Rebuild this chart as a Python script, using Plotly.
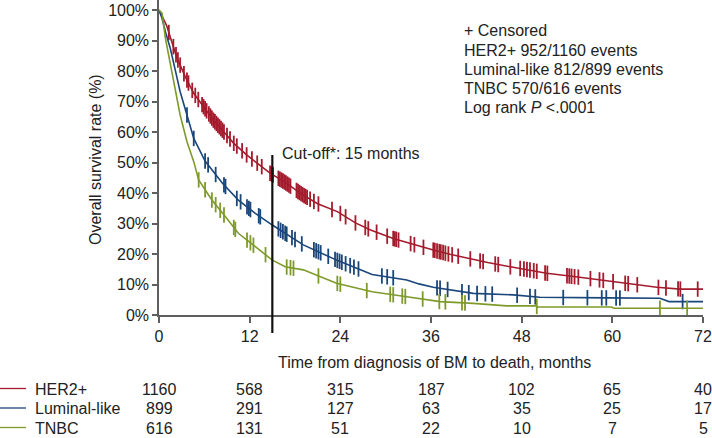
import numpy as np
import plotly.graph_objects as go

# ---------------- data ----------------
her2_t = [0, 0.3, 1.0, 1.7, 2.4, 3.5, 4.6, 5.9, 7.2, 8.4, 9.9, 11.6, 13.0, 14.7, 16.5, 19.1, 21.0,
          23.6, 26.0, 28.0, 31.0, 34.4, 36.3, 38.5, 40.8, 43.5, 46.5, 49.0, 51.3, 54.9, 57.5,
          60.1, 63.0, 65.9, 69.0, 72]
her2_s = [100, 98.5, 95, 89.5, 84.2, 78, 72.7, 68.3, 63.9, 60.6, 56.3, 52.5, 49.8, 46.5, 43.8,
          39.3, 36.5, 33.9, 30.2, 27.9, 25.1, 22.6, 21.3, 19.9, 18.6, 17.2, 15.8, 14.8, 13.7,
          12.6, 11.8, 10.9, 10.0, 9.1, 8.5, 8.5]

lum_t = [0, 0.4, 0.85, 1.5, 2.2, 2.8, 3.7, 4.6, 6.1, 8.4, 10.5, 12.75, 15.0, 19.1, 23.5, 28.2,
         32.8, 34.4, 36.3, 41.6, 46.9, 50.4, 59.3, 66.3, 67.5, 72]
lum_s = [100, 97.3, 92.9, 87.4, 79.8, 73.2, 65.6, 57.9, 50.5, 43.2, 37.7, 33.3, 29.5, 23.0, 18.0,
         13.3, 11.5, 10.2, 9.1, 7.1, 6.6, 5.8, 5.6, 5.5, 4.4, 4.4]

tnbc_t = [0, 0.4, 0.85, 1.5, 2.2, 2.8, 3.7, 4.6, 5.25, 7.0, 8.8, 10.5, 12.75, 15.0, 16.7, 19.1,
          23.5, 28.2, 32.8, 37.2, 41.6, 46.0, 49.9, 50.1, 59.9, 60.2, 72]
tnbc_s = [100, 99.0, 90.7, 82.0, 73.2, 65.6, 56.8, 50.3, 44.3, 37.7, 32.2, 26.8, 22.4, 18.0, 15.8,
          14.8, 10.4, 7.6, 6.0, 4.4, 3.8, 3.0, 3.0, 2.6, 2.6, 2.2, 2.2]

her2_cens = [1.3, 1.9, 2.25, 2.5, 2.8, 3.3, 3.7, 3.9, 4.4, 4.8, 5.2, 5.7, 5.9, 6.1, 6.3, 6.6, 6.8,
             7.0, 7.2, 7.4, 7.6, 7.8, 8.0, 8.2, 8.4, 8.6, 9.0, 9.4, 9.9, 10.3, 11.0, 11.6, 12.3,
             13.0, 13.6, 14.7, 14.9, 15.1, 15.8, 16.0, 16.2, 16.4, 16.6, 16.8, 17.0, 17.2, 17.4,
             18.2, 18.4, 18.6, 18.8, 19.0, 19.2, 19.4, 19.6, 20.0, 20.5, 21.1, 22.9, 24.0, 24.7,
             26.0, 27.3, 27.7, 28.8, 30.2, 31.0, 31.2, 31.4, 31.7, 33.3, 33.8, 35.0, 36.3, 36.5,
             36.8, 37.1, 37.3, 37.6, 37.9, 38.3, 38.8, 39.6, 41.2, 42.5, 42.9, 44.5, 44.9, 46.5,
             47.8, 48.3, 48.7, 49.1, 49.6, 50.0, 51.1, 51.4, 54.0, 54.3, 54.6, 55.0, 55.5, 57.1,
             58.3, 58.8, 60.1, 61.7, 62.1, 63.3, 66.1, 67.1, 68.7, 69.0, 71.3]
lum_cens = [3.7, 4.6, 6.1, 6.5, 7.5, 8.6, 8.8, 10.3, 10.8, 11.65, 11.9, 12.1, 13.2, 13.4, 15.8,
            16.1, 16.4, 16.7, 16.9, 17.6, 18.0, 18.9, 20.5, 20.8, 21.1, 21.4, 22.4, 23.3, 23.6,
            23.9, 24.2, 24.7, 25.3, 25.8, 26.4, 29.5, 30.2, 31.0, 36.8, 37.2, 38.2, 40.1, 41.0,
            42.1, 43.2, 44.1, 47.4, 49.1, 49.8, 53.5, 56.7, 58.6, 59.2, 60.5, 61.0, 69.3]
tnbc_cens = [5.25, 6.1, 7.0, 7.5, 8.1, 8.6, 9.9, 10.1, 11.65, 12.1, 12.5, 14.1, 16.9, 17.4, 17.8,
             21.1, 23.6, 24.0, 27.5, 30.6, 31.0, 32.2, 32.6, 34.9, 37.1, 37.9, 40.1, 40.5, 50.0,
             66.3, 69.9]

risk_times = [0, 12, 24, 36, 48, 60, 72]
her2_risk = [1160, 568, 315, 187, 102, 65, 40]
lum_risk = [899, 291, 127, 63, 35, 25, 17]
tnbc_risk = [616, 131, 51, 22, 10, 7, 5]

series_names = ["HER2+", "Luminal-like", "TNBC"]
y_ticks = [0, 10, 20, 30, 40, 50, 60, 70, 80, 90, 100]
y_tick_labels = ["0%", "10%", "20%", "30%", "40%", "50%", "60%", "70%", "80%", "90%", "100%"]
x_ticks = [0, 12, 24, 36, 48, 60, 72]
x_tick_labels = ["0", "12", "24", "36", "48", "60", "72"]
info_lines = ["+ Censored", "HER2+ 952/1160 events", "Luminal-like 812/899 events",
              "TNBC 570/616 events", "Log rank <i>P</i> &lt;.0001"]
cutoff_month = 15
cutoff_label = "Cut-off*: 15 months"

# ---------------- style ----------------
colors = ["#a31b2c", "#1a467a", "#7e9a2a"]
FONT = "Liberation Sans, Arial, sans-serif"
FS = 16
TXT = "#222222"
AX = "#5f5f5f"
W, H = 712, 438
L, R, T, B = 159, 9, 0, 123
PH = H - T - B  # plot height in px
YMAX = 103.3


def py(pix):  # pixel y -> paper y
    return 1 - (pix - T) / PH


def px(pix):  # pixel x -> paper x
    return (pix - L) / (W - L - R)


fig = go.Figure()
curves = [(her2_t, her2_s, her2_cens), (lum_t, lum_s, lum_cens), (tnbc_t, tnbc_s, tnbc_cens)]
for (t, s, c), name, col in zip(curves, series_names, colors):
    fig.add_trace(go.Scatter(x=t, y=s, mode="lines", name=name,
                             line=dict(color=col, width=1.6), showlegend=False))
    cy = np.interp(c, t, s)
    fig.add_trace(go.Scatter(x=c, y=cy, mode="markers", showlegend=False,
                             marker=dict(symbol="line-ns-open", size=11, color=col,
                                         line=dict(width=1.8, color=col))))

fig.update_layout(
    width=W, height=H, margin=dict(l=L, r=R, t=T, b=B),
    paper_bgcolor="white", plot_bgcolor="white",
    font=dict(family=FONT, size=FS, color=TXT),
    xaxis=dict(range=[0, 72], tickvals=x_ticks, ticktext=x_tick_labels, showgrid=False,
               zeroline=False, showline=True, linecolor=AX, linewidth=1.5, ticks="outside",
               ticklen=6, tickcolor=AX, tickwidth=1.5, tickfont=dict(size=FS, color=TXT)),
    yaxis=dict(range=[0, YMAX], tickvals=y_ticks, ticktext=y_tick_labels, showgrid=False,
               zeroline=False, showline=True, linecolor=AX, linewidth=1.5, ticks="outside",
               ticklen=5, tickcolor=AX, tickwidth=1.5, tickfont=dict(size=FS, color=TXT)),
)

# cut-off line
fig.add_shape(type="line", xref="x", yref="paper", x0=cutoff_month, x1=cutoff_month,
              y0=py(333), y1=py(155), line=dict(color="#111111", width=2.2))
fig.add_annotation(x=px(280), y=py(153.5), xref="paper", yref="paper", text=cutoff_label,
                   showarrow=False, xanchor="left", yanchor="middle",
                   font=dict(size=FS, color=TXT))

# info block
for i, line in enumerate(info_lines):
    fig.add_annotation(x=px(462), y=py(31 + 19.1 * i), xref="paper", yref="paper", text=line,
                       showarrow=False, xanchor="left", yanchor="middle",
                       font=dict(size=FS, color=TXT))

# axis titles
fig.add_annotation(x=px(434), y=py(363), xref="paper", yref="paper",
                   text="Time from diagnosis of BM to death, months", showarrow=False,
                   xanchor="center", yanchor="middle", font=dict(size=FS, color=TXT))
fig.add_annotation(x=px(95), y=py(160), xref="paper", yref="paper",
                   text="Overall survival rate (%)", showarrow=False, textangle=-90,
                   xanchor="center", yanchor="middle", font=dict(size=FS, color=TXT))

# risk table
risks = [her2_risk, lum_risk, tnbc_risk]
row_y = [389, 408.5, 428]
for name, col, rk, ry in zip(series_names, colors, risks, row_y):
    fig.add_shape(type="line", xref="paper", yref="paper", x0=px(0), x1=px(26),
                  y0=py(ry - 0.5), y1=py(ry - 0.5), line=dict(color=col, width=1.3))
    fig.add_annotation(x=px(33), y=py(ry), xref="paper", yref="paper", text=name,
                       showarrow=False, xanchor="left", yanchor="middle",
                       font=dict(size=FS, color=TXT))
    for tm, v in zip(risk_times, rk):
        fig.add_annotation(x=tm, y=py(ry), xref="x", yref="paper", text=str(v),
                           showarrow=False, xanchor="center", yanchor="middle",
                           font=dict(size=FS, color=TXT))

fig.write_html("out.html", config={"displayModeBar": False},
               post_script="document.body.style.margin='0px';")
